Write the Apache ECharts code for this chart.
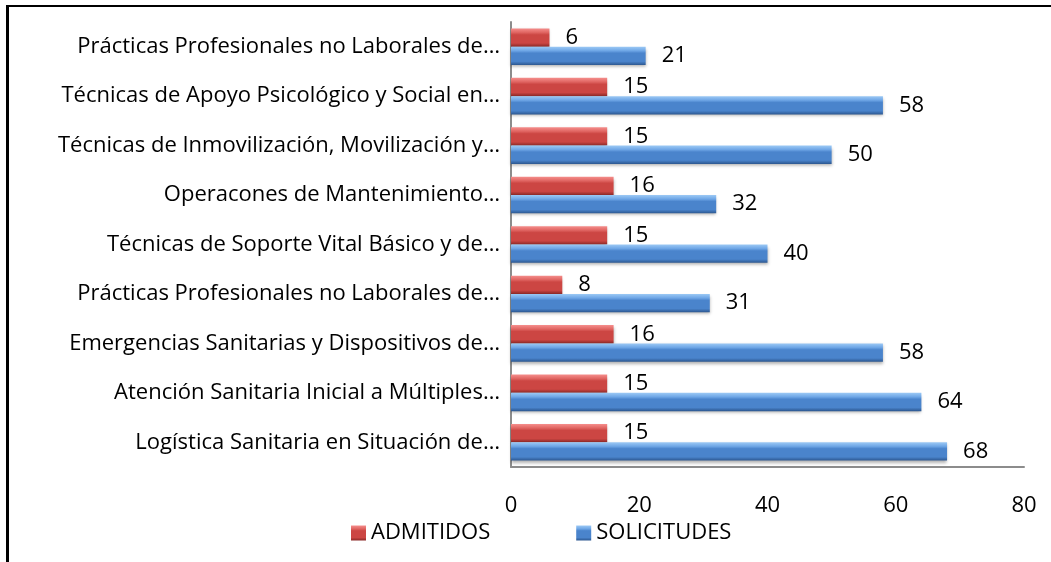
<!DOCTYPE html>
<html>
<head>
<meta charset="utf-8">
<script src="https://cdn.jsdelivr.net/npm/echarts@6/dist/echarts.min.js"></script>
<style>
  html, body { margin: 0; padding: 0; background: #fff; }
  #frame { position: absolute; left: 6px; top: 5px; width: 1100px; height: 600px; border-top: 2px solid #000; border-left: 3px solid #000; }
  #chart_1 { position: absolute; left: 0; top: 0; width: 1051px; height: 562px; }
</style>
</head>
<body>
<div id="frame"></div>
<div id="chart_1"></div>
<script>
// categories listed bottom to top
var categories = [
    'Logística Sanitaria en Situación de…',
    'Atención Sanitaria Inicial a Múltiples…',
    'Emergencias Sanitarias y Dispositivos de…',
    'Prácticas Profesionales no Laborales de…',
    'Técnicas de Soporte Vital Básico y de…',
    'Operacones de Mantenimiento…',
    'Técnicas de Inmovilización, Movilización y…',
    'Técnicas de Apoyo Psicológico y Social en…',
    'Prácticas Profesionales no Laborales de…'
];
var admitidos = [15, 15, 16, 8, 15, 16, 15, 15, 6];
var solicitudes = [68, 64, 58, 31, 40, 32, 50, 58, 21];
var xTicks = [0, 20, 40, 60, 80];

var font = '"Open Sans", Lato, sans-serif';
var fs = 22;

function barColor(light, mid, body, dark) {
    return new echarts.graphic.LinearGradient(0, 0, 0, 1, [
        { offset: 0, color: light },
        { offset: 0.22, color: mid },
        { offset: 0.35, color: body },
        { offset: 0.8, color: body },
        { offset: 1, color: dark }
    ]);
}

var chart_1 = echarts.init(document.getElementById('chart_1'));
var option = {
    animation: false,
    textStyle: { fontFamily: font },
    grid: { left: 511, right: 27, top: 22, bottom: 95 },
    legend: {
        left: 346, top: 517,
        itemWidth: 15, itemHeight: 15, itemGap: 86,
        icon: 'rect',
        textStyle: { fontSize: fs, color: '#000', fontFamily: font },
        data: ['ADMITIDOS', 'SOLICITUDES']
    },
    xAxis: {
        type: 'value', min: 0, max: 80, interval: 20,
        splitLine: { show: false },
        axisLine: { show: true, lineStyle: { color: '#8c8c8c', width: 2 } },
        axisTick: { show: false },
        axisLabel: {
            margin: 28, fontSize: fs, color: '#000', fontFamily: font,
            formatter: function (v) { return xTicks.indexOf(v) >= 0 ? String(v) : ''; }
        }
    },
    yAxis: {
        type: 'category', data: categories,
        axisLine: { show: true, lineStyle: { color: '#8c8c8c', width: 2 } },
        axisTick: { show: false },
        axisLabel: { margin: 11, fontSize: fs, color: '#000', fontFamily: font }
    },
    series: [
        {
            name: 'ADMITIDOS', type: 'bar', data: admitidos,
            barCategoryGap: '26%', barGap: '0%',
            itemStyle: {
                color: barColor('#f58e8c', '#e06562', '#cc4643', '#8a2826'),
                shadowColor: 'rgba(0,0,0,0.3)', shadowBlur: 3, shadowOffsetY: 2
            },
            label: { show: true, position: 'right', distance: 16, fontSize: fs, color: '#000', fontFamily: font }
        },
        {
            name: 'SOLICITUDES', type: 'bar', data: solicitudes,
            barCategoryGap: '26%', barGap: '0%',
            itemStyle: {
                color: barColor('#9cc9f5', '#6ea6e6', '#4a84cc', '#2c5790'),
                shadowColor: 'rgba(0,0,0,0.3)', shadowBlur: 3, shadowOffsetY: 2
            },
            label: { show: true, position: 'right', distance: 16, fontSize: fs, color: '#000', fontFamily: font }
        }
    ]
};
chart_1.setOption(option);
</script>
</body>
</html>
